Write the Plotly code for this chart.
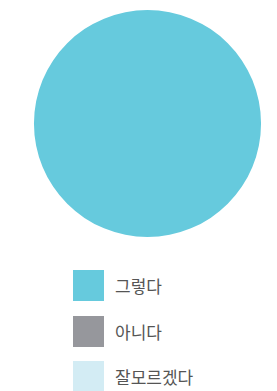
import plotly.graph_objects as go

categories = ["그렇다", "아니다", "잘모르겠다"]
values = [100, 0, 0]
colors = ["#66CADD", "#96979C", "#D3ECF4"]

W, H = 277, 391
OFF = 8  # page body margin offset

fig = go.Figure()
fig.add_trace(go.Pie(
    labels=categories,
    values=values,
    marker=dict(colors=colors, line=dict(width=0)),
    textinfo="none",
    hoverinfo="label+percent",
    sort=False,
    showlegend=False,
    domain=dict(x=[(34 - OFF) / W, (261 - OFF) / W],
                y=[1 - (237 - OFF) / H, 1 - (10 - OFF) / H]),
))

# custom legend built from categories/colors
sq = 31
x0 = 73 - OFF
y_tops = [270 - OFF, 316 - OFF, 361 - OFF]
shapes = []
annotations = []
for cat, col, yt in zip(categories, colors, y_tops):
    shapes.append(dict(
        type="rect", xref="paper", yref="paper",
        x0=x0 / W, x1=(x0 + sq) / W,
        y0=1 - (yt + sq) / H, y1=1 - yt / H,
        fillcolor=col, line=dict(width=0),
    ))
    annotations.append(dict(
        xref="paper", yref="paper",
        x=(x0 + sq + 9) / W, y=1 - (yt + sq / 2) / H,
        xanchor="left", yanchor="middle",
        text=cat, showarrow=False,
        font=dict(family="Noto Sans CJK KR", size=17, color="#555555"),
    ))

fig.update_layout(
    width=W, height=H,
    margin=dict(l=0, r=0, t=0, b=0),
    paper_bgcolor="white",
    plot_bgcolor="white",
    shapes=shapes,
    annotations=annotations,
)

fig.write_html("out.html")
